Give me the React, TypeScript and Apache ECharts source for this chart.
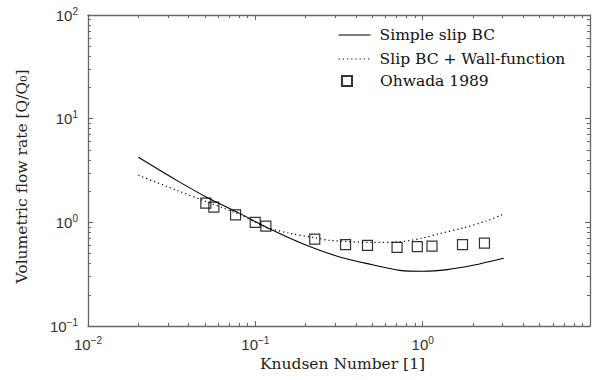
import React, { useEffect, useRef } from 'react';
import * as echarts from 'echarts';

const SOLID_X = [0.02, 0.0339, 0.0511, 0.0807, 0.127, 0.202, 0.319, 0.5, 0.73, 1.0, 1.4, 2.0, 3.05];
const SOLID_Y = [4.24, 2.54, 1.75, 1.22, 0.837, 0.6, 0.463, 0.39, 0.344, 0.337, 0.35, 0.385, 0.45];
const DOTTED_X = [0.02, 0.0336, 0.0486, 0.0776, 0.117, 0.161, 0.2265, 0.279, 0.505, 0.697, 0.835, 1.0, 1.26, 1.74, 2.4, 3.01];
const DOTTED_Y = [2.84, 2.05, 1.63, 1.22, 0.895, 0.783, 0.71, 0.67, 0.641, 0.645, 0.666, 0.706, 0.778, 0.881, 1.03, 1.19];
const OHWADA_X = [0.0506, 0.0565, 0.0762, 0.0998, 0.1156, 0.2265, 0.346, 0.468, 0.703, 0.929, 1.137, 1.73, 2.34];
const OHWADA_Y = [1.53, 1.4, 1.18, 1.0, 0.92, 0.69, 0.61, 0.6, 0.574, 0.583, 0.59, 0.61, 0.63];

const SERIES_NAMES = ['Simple slip BC', 'Slip BC + Wall-function', 'Ohwada 1989'];
const X_NAME = 'Knudsen Number [1]';
const Y_NAME = 'Volumetric flow rate [Q/Q₀]';
const X_RANGE = [0.01, 10];
const Y_RANGE = [0.1, 100];

const minorLogs = (lo: number, hi: number) => {
  const out: number[] = [];
  for (let e = lo; e < hi; e++) {
    for (let k = 2; k <= 9; k++) out.push(e + Math.log10(k));
  }
  return out;
};

const AXIS_COLOR = '#666';
const LABEL_COLOR = '#333';
const SERIF = 'DejaVu Serif';
const SANS = 'Liberation Sans';
const TEXT_SIZE = 15.5;

const powLabel = (hideAbove: number) => (v: number) => {
  const e = Math.round(Math.log10(v));
  if (e > hideAbove) return '';
  const s = e < 0 ? '−' + -e : String(e);
  return `{b|10}{s|${s}}`;
};

const rich = {
  b: { fontSize: 15, fontFamily: SANS, color: LABEL_COLOR, lineHeight: 18 },
  s: { fontSize: 10, fontFamily: SANS, color: LABEL_COLOR, lineHeight: 12, verticalAlign: 'top' },
};

const zip = (xs: number[], ys: number[]) => xs.map((x, i) => [x, ys[i]]);

export default function App() {
  const ref = useRef<HTMLDivElement>(null);
  useEffect(() => {
    if (!ref.current) return;
    const chart = echarts.init(ref.current, null, { renderer: 'svg' });
    const lx = Math.log10(X_RANGE[0]);
    const hx = Math.log10(X_RANGE[1]);
    const ly = Math.log10(Y_RANGE[0]);
    const hy = Math.log10(Y_RANGE[1]);
    const mainLine = { show: true, onZero: false, lineStyle: { color: AXIS_COLOR, width: 1.3 } };
    const majorTick = { show: true, inside: true, length: 5, lineStyle: { color: AXIS_COLOR, width: 1 } };
    const minorTickX = { show: true, inside: true, length: 3, customValues: minorLogs(lx, hx), lineStyle: { color: AXIS_COLOR, width: 1 } };
    const minorTickY = { show: true, inside: true, length: 3, customValues: minorLogs(ly, hy), lineStyle: { color: AXIS_COLOR, width: 1 } };
    const off = { show: false };
    const legendText = { fontFamily: SERIF, fontSize: TEXT_SIZE, color: '#111', lineHeight: 14 };
    chart.setOption({
      animation: false,
      backgroundColor: '#fff',
      grid: { left: 88, right: 5, top: 15, bottom: 54, containLabel: false, outerBoundsMode: 'none' },
      legend: [
        {
          data: [
            { name: SERIES_NAMES[0], itemStyle: { opacity: 0 }, lineStyle: { width: 1 } },
            { name: SERIES_NAMES[1], itemStyle: { opacity: 0 }, lineStyle: { width: 1.2 } },
          ],
          orient: 'vertical',
          left: 333,
          top: 22,
          itemWidth: 32,
          itemHeight: 14,
          itemGap: 8,
          selectedMode: false,
          textStyle: { ...legendText, padding: [0, 0, 0, 4] },
        },
        {
          data: [SERIES_NAMES[2]],
          orient: 'vertical',
          left: 336,
          top: 68,
          itemWidth: 10,
          itemHeight: 10,
          selectedMode: false,
          textStyle: { ...legendText, padding: [0, 0, 0, 23] },
        },
      ],
      xAxis: [
        {
          type: 'log', min: X_RANGE[0], max: X_RANGE[1], position: 'bottom',
          axisLine: mainLine, axisTick: majorTick, splitLine: off,
          axisLabel: { margin: 9, formatter: powLabel(0), rich },
          name: X_NAME, nameLocation: 'middle', nameGap: 26,
          nameTextStyle: { fontFamily: SERIF, fontSize: TEXT_SIZE, color: '#222', padding: [0, 0, 0, 7] },
        },
        {
          type: 'log', min: X_RANGE[0], max: X_RANGE[1], position: 'top',
          axisLine: mainLine, axisTick: majorTick, splitLine: off, axisLabel: off,
        },
        {
          type: 'value', min: lx, max: hx, position: 'bottom',
          axisLine: { show: false, onZero: false }, axisTick: minorTickX, splitLine: off, axisLabel: off,
        },
        {
          type: 'value', min: lx, max: hx, position: 'top',
          axisLine: { show: false, onZero: false }, axisTick: minorTickX, splitLine: off, axisLabel: off,
        },
      ],
      yAxis: [
        {
          type: 'log', min: Y_RANGE[0], max: Y_RANGE[1], position: 'left',
          axisLine: mainLine, axisTick: majorTick, splitLine: off,
          axisLabel: { margin: 10, formatter: powLabel(99), rich },
          name: Y_NAME, nameLocation: 'middle', nameGap: 58,
          nameTextStyle: { fontFamily: SERIF, fontSize: TEXT_SIZE, color: '#222', padding: [0, 12, 0, 0] },
        },
        {
          type: 'log', min: Y_RANGE[0], max: Y_RANGE[1], position: 'right',
          axisLine: mainLine, axisTick: majorTick, splitLine: off, axisLabel: off,
        },
        {
          type: 'value', min: ly, max: hy, position: 'left',
          axisLine: { show: false, onZero: false }, axisTick: minorTickY, splitLine: off, axisLabel: off,
        },
        {
          type: 'value', min: ly, max: hy, position: 'right',
          axisLine: { show: false, onZero: false }, axisTick: minorTickY, splitLine: off, axisLabel: off,
        },
      ],
      series: [
        {
          name: SERIES_NAMES[0], type: 'line', xAxisIndex: 0, yAxisIndex: 0,
          data: zip(SOLID_X, SOLID_Y), symbol: 'none', smooth: 0.3,
          lineStyle: { color: '#000', width: 1.1 }, itemStyle: { color: '#000' },
        },
        {
          name: SERIES_NAMES[1], type: 'line', xAxisIndex: 0, yAxisIndex: 0,
          data: zip(DOTTED_X, DOTTED_Y), symbol: 'none', smooth: 0.3,
          lineStyle: { color: '#000', width: 1.2, type: [1.2, 3] }, itemStyle: { color: '#000' },
        },
        {
          name: SERIES_NAMES[2], type: 'scatter', xAxisIndex: 0, yAxisIndex: 0,
          data: zip(OHWADA_X, OHWADA_Y), symbol: 'rect', symbolSize: 10, symbolKeepAspect: true,
          itemStyle: { color: 'rgba(0,0,0,0)', borderColor: '#000', borderWidth: 1.2 },
        },
      ],
    });
    return () => chart.dispose();
  }, []);
  return <div ref={ref} style={{ position: 'fixed', left: 0, top: 0, width: 595, height: 380 }} />;
}
